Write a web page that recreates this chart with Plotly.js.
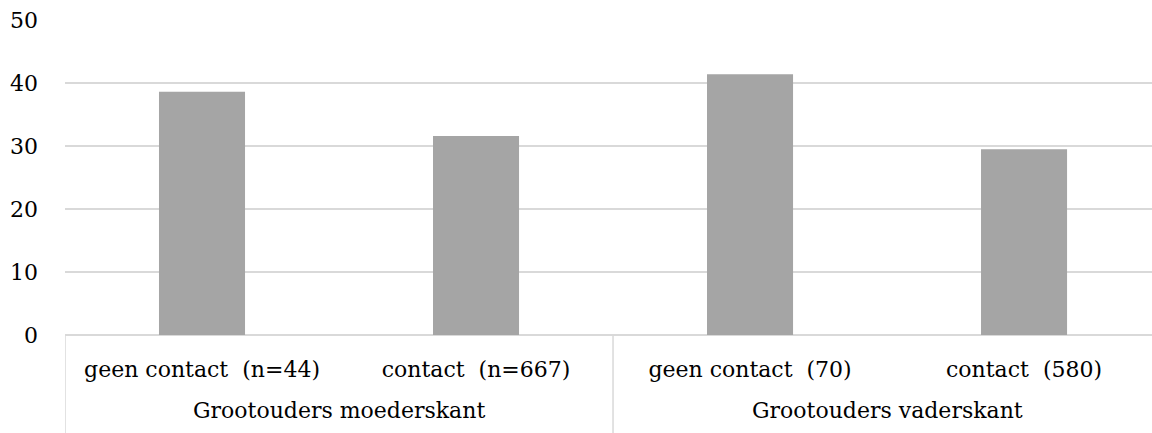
<!DOCTYPE html>
<html>
<head>
<meta charset="utf-8">
<script src="https://cdn.plot.ly/plotly-3.0.1.min.js"></script>
<style>html,body{margin:0;padding:0;background:#fff;overflow:hidden}</style>
</head>
<body>
<div id="chart" style="width:1152px;height:433px"></div>
<script>
const categories = ["geen contact\u00a0 (n=44)", "contact\u00a0 (n=667)", "geen contact\u00a0 (70)", "contact\u00a0 (580)"];
const groups = ["Grootouders moederskant", "Grootouders vaderskant"];
const values = [38.6, 31.6, 41.4, 29.5];
const yTicks = [0, 10, 20, 30, 40, 50];

const FONT = "DejaVu Serif, Liberation Serif, serif";
const xIdx = categories.map((c, i) => i);

const trace = {
  type: "bar",
  x: xIdx,
  y: values,
  width: 0.314,
  marker: {color: "#a5a5a5"},
  hoverinfo: "skip"
};

const plotH = 433 - 20 - 98;
const shapes = [-0.5, 1.5, 3.5].map(xv => ({
  type: "line", xref: "x", yref: "paper",
  x0: xv, x1: xv, y0: 0, y1: -98 / plotH,
  line: {color: "#d9d9d9", width: 1.5}
}));

const annotations = groups.map((g, i) => ({
  text: g, xref: "x", yref: "paper",
  x: 2 * i + 0.5, y: -(410 - 335) / plotH,
  xanchor: "center", yanchor: "middle", showarrow: false,
  font: {family: FONT, size: 22, color: "#000"}
}));

const layout = {
  width: 1152, height: 433,
  margin: {l: 65, r: 0, t: 20, b: 98, pad: 0},
  paper_bgcolor: "#fff", plot_bgcolor: "#fff",
  showlegend: false,
  xaxis: {
    range: [-0.5, 3.467],
    tickmode: "array", tickvals: xIdx, ticktext: categories,
    ticks: "", showgrid: false, zeroline: false,
    showline: false,
    ticklabelstandoff: 19,
    tickfont: {family: FONT, size: 22, color: "#000"},
    fixedrange: true
  },
  yaxis: {
    range: [0, 50],
    tickmode: "array", tickvals: yTicks,
    showgrid: true, gridcolor: "#d9d9d9", gridwidth: 1.5,
    zeroline: true, zerolinecolor: "#d9d9d9", zerolinewidth: 1.5,
    showline: false, ticks: "",
    ticklabelstandoff: 26,
    tickfont: {family: FONT, size: 22, color: "#000"},
    fixedrange: true
  },
  shapes: shapes,
  annotations: annotations
};

Plotly.newPlot("chart", [trace], layout, {displayModeBar: false, staticPlot: true});
</script>
</body>
</html>
